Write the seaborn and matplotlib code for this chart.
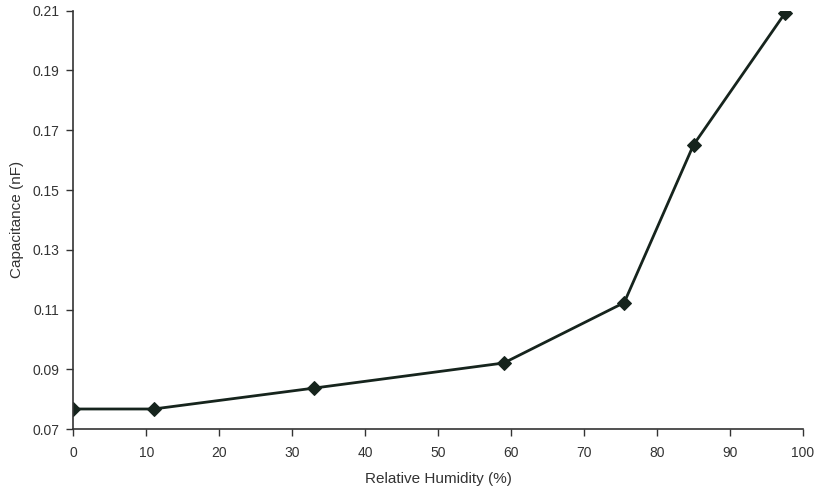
import matplotlib
matplotlib.use("Agg")
import matplotlib.pyplot as plt
import seaborn as sns
import pandas as pd

humidity = [0, 11, 33, 59, 75.5, 85, 97.6]
capacitance = [0.0767, 0.0767, 0.0837, 0.0921, 0.1123, 0.1651, 0.2094]
x_ticks = [0, 10, 20, 30, 40, 50, 60, 70, 80, 90, 100]
y_ticks = [0.07, 0.09, 0.11, 0.13, 0.15, 0.17, 0.19, 0.21]

sns.set_style("ticks")
plt.rcParams['font.family'] = ['Liberation Sans', 'DejaVu Sans']

df = pd.DataFrame({"rh": humidity, "cap": capacitance})

fig = plt.figure(figsize=(8.18, 4.95), dpi=100)
ax = fig.add_axes([0.0896, 0.1333, 0.892, 0.845])
sns.lineplot(data=df, x="rh", y="cap", ax=ax, color="#16241d", linewidth=2.0,
             marker="D", markersize=7, markeredgecolor="#16241d",
             markerfacecolor="#16241d")

ax.set_xlim(0, 100)
ax.set_ylim(0.07, 0.21)
ax.set_xticks(x_ticks)
ax.set_yticks(y_ticks)
ax.set_xticklabels([str(t) for t in x_ticks])
ax.set_yticklabels([f"{t:.2f}" for t in y_ticks])
ax.tick_params(axis="both", labelsize=10, colors="#333333", length=5, width=1,
               direction="out")
ax.tick_params(axis="x", pad=7)
ax.tick_params(axis="y", pad=5)
for s in ["left", "bottom"]:
    ax.spines[s].set_color("#333333")
    ax.spines[s].set_linewidth(1.2)
sns.despine(ax=ax)
ax.set_xlabel("Relative Humidity (%)", fontsize=11, color="#333333", labelpad=9)
ax.set_ylabel("Capacitance (nF)", fontsize=11, color="#333333", labelpad=6)

fig.savefig("out.png", dpi=100)
